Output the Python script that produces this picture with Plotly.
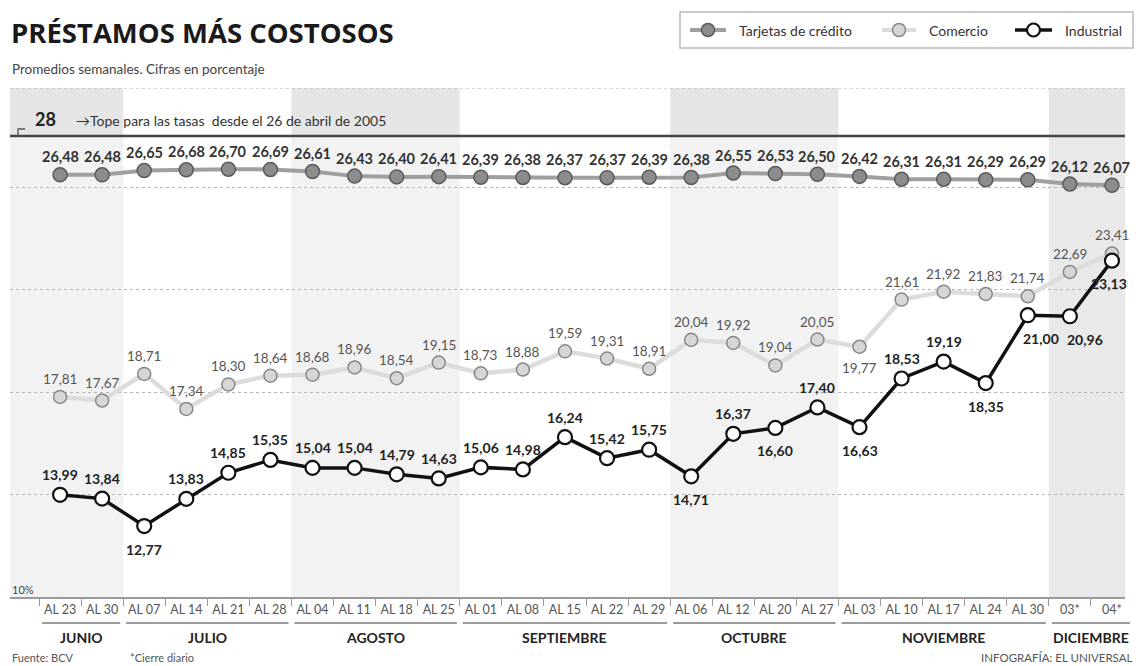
import plotly.graph_objects as go

# ---------------- data ----------------
weeks = ["AL 23", "AL 30", "AL 07", "AL 14", "AL 21", "AL 28", "AL 04", "AL 11", "AL 18",
         "AL 25", "AL 01", "AL 08", "AL 15", "AL 22", "AL 29", "AL 06", "AL 12", "AL 20",
         "AL 27", "AL 03", "AL 10", "AL 17", "AL 24", "AL 30", "03*", "04*"]
months = ["JUNIO", "JULIO", "AGOSTO", "SEPTIEMBRE", "OCTUBRE", "NOVIEMBRE", "DICIEMBRE"]
month_counts = [2, 4, 4, 5, 4, 5, 2]

tarjetas = [26.48, 26.48, 26.65, 26.68, 26.70, 26.69, 26.61, 26.43, 26.40, 26.41, 26.39,
            26.38, 26.37, 26.37, 26.39, 26.38, 26.55, 26.53, 26.50, 26.42, 26.31, 26.31,
            26.29, 26.29, 26.12, 26.07]
comercio = [17.81, 17.67, 18.71, 17.34, 18.30, 18.64, 18.68, 18.96, 18.54, 19.15, 18.73,
            18.88, 19.59, 19.31, 18.91, 20.04, 19.92, 19.04, 20.05, 19.77, 21.61, 21.92,
            21.83, 21.74, 22.69, 23.41]
industrial = [13.99, 13.84, 12.77, 13.83, 14.85, 15.35, 15.04, 15.04, 14.79, 14.63, 15.06,
              14.98, 16.24, 15.42, 15.75, 14.71, 16.37, 16.60, 17.40, 16.63, 18.53, 19.19,
              18.35, 21.00, 20.96, 23.13]
tope = 28

# label placement (style): 1 = above, -1 = below
com_side = [1] * 26
com_side[19] = -1
ind_side = [1] * 26
for k in (2, 15, 17, 19, 22, 23, 24, 25):
    ind_side[k] = -1
ind_dx = [0] * 26
ind_dx[23] = 13
ind_dx[24] = 15
ind_dx[25] = -3

FONT = "Lato, 'Open Sans', sans-serif"
XMIN, XMAX = -1.19, 25.31
YMIN, YMAX = 10, 29.87
W, H = 1136, 666
ML, MR, MT, MB = 10, 11, 88, 69
PW, PH = W - ML - MR, H - MT - MB


def pxx(px):
    return (px - ML) / PW


def pxy(py):
    return (H - MB - py) / PH


def xp(i):
    return (i - XMIN) / (XMAX - XMIN)


x = list(range(len(weeks)))
fig = go.Figure()

fig.add_trace(go.Scatter(
    x=x, y=tarjetas, mode="lines+markers", name="Tarjetas de crédito",
    line=dict(color="#9f9f9f", width=4),
    marker=dict(size=14, color="#8c8c8c", line=dict(color="#5a5a5a", width=1.5)),
    hoverinfo="skip"))
fig.add_trace(go.Scatter(
    x=x, y=comercio, mode="lines+markers", name="Comercio",
    line=dict(color="#dcdcdc", width=4.5),
    marker=dict(size=13, color="#d6d6d6", line=dict(color="#888888", width=1.5)),
    hoverinfo="skip"))
fig.add_trace(go.Scatter(
    x=x, y=industrial, mode="lines+markers", name="Industrial",
    line=dict(color="#111111", width=3.5),
    marker=dict(size=14, color="white", line=dict(color="#111111", width=2.2)),
    hoverinfo="skip"))

shapes = []
annotations = []


def note(**kw):
    kw.setdefault("showarrow", False)
    kw.setdefault("xanchor", "center")
    kw.setdefault("yanchor", "middle")
    annotations.append(kw)


# month bands
start = 0
for m, (name, cnt) in enumerate(zip(months, month_counts)):
    end = start + cnt - 1
    x0 = XMIN if m == 0 else start - 0.5
    x1 = XMAX if m == len(months) - 1 else end + 0.5
    if m % 2 == 0:
        low = "#e9e9e9" if m == len(months) - 1 else "#f2f2f2"
        shapes.append(dict(type="rect", xref="x", yref="y", x0=x0, x1=x1, y0=YMIN, y1=tope,
                           fillcolor=low, line=dict(width=0), layer="below"))
        shapes.append(dict(type="rect", xref="x", yref="y", x0=x0, x1=x1, y0=tope, y1=YMAX,
                           fillcolor="#e5e5e5", line=dict(width=0), layer="below"))
    # month underline and label
    u0 = xp(start - 0.5) + 3 / PW
    u1 = xp(end + 0.5) - 3 / PW
    shapes.append(dict(type="line", xref="paper", yref="paper", x0=u0, x1=u1,
                       y0=pxy(623), y1=pxy(623), line=dict(color="#9a9a9a", width=2)))
    note(xref="paper", yref="paper", x=(u0 + u1) / 2, y=pxy(637),
         text=f"<b>{name}</b>", font=dict(family=FONT, size=14, color="#222"))
    start = end + 1

# top dotted line and 28 line
shapes.append(dict(type="line", xref="paper", yref="y", x0=0, x1=1, y0=YMAX, y1=YMAX,
                   line=dict(color="#b0b0b0", width=1, dash="dot")))
shapes.append(dict(type="line", xref="paper", yref="y", x0=0, x1=1, y0=tope, y1=tope,
                   line=dict(color="#444444", width=2.5)))
# small bracket near 28
shapes.append(dict(type="path", xref="paper", yref="paper",
                   path=f"M {pxx(18)} {pxy(137)} L {pxx(18)} {pxy(129)} L {pxx(25)} {pxy(129)}",
                   line=dict(color="#555", width=1.3)))
note(xref="paper", yref="y", x=pxx(33), y=tope, yshift=17, xanchor="left",
     text="<b>28</b>", font=dict(family=FONT, size=18, color="#222"))
note(xref="paper", yref="y", x=pxx(74), y=tope, yshift=15, xanchor="left",
     text="→Tope para las tasas  desde el 26 de abril de 2005",
     font=dict(family=FONT, size=14, color="#333"))


# data labels
def fmt(v):
    return f"{v:.2f}".replace(".", ",")


for i, v in enumerate(tarjetas):
    note(x=i, y=v, text=f"<b>{fmt(v)}</b>", yshift=18,
         font=dict(family=FONT, size=14.5, color="#333"))
for i, v in enumerate(comercio):
    note(x=i, y=v, text=fmt(v), yshift=18 if com_side[i] > 0 else -21,
         font=dict(family=FONT, size=13.5, color="#555"))
for i, v in enumerate(industrial):
    note(x=i, y=v, text=f"<b>{fmt(v)}</b>", yshift=20 if ind_side[i] > 0 else -23,
         xshift=ind_dx[i], font=dict(family=FONT, size=14, color="#222"))

# title, subtitle
note(xref="paper", yref="paper", x=pxx(9), y=pxy(33), xanchor="left",
     text="<b>PRÉSTAMOS MÁS COSTOSOS</b>",
     font=dict(family="'Open Sans', sans-serif", size=27.5, color="#1a1a1a"))
note(xref="paper", yref="paper", x=pxx(10), y=pxy(69), xanchor="left",
     text="Promedios semanales. Cifras en porcentaje",
     font=dict(family=FONT, size=13.5, color="#444"))
# 10%
note(xref="paper", yref="y", x=pxx(10), y=YMIN, yshift=8, xanchor="left",
     text="10%", font=dict(family=FONT, size=11, color="#444"))
# footer
note(xref="paper", yref="paper", x=pxx(10), y=pxy(657), xanchor="left",
     text="Fuente: BCV", font=dict(family=FONT, size=11, color="#555"))
note(xref="paper", yref="paper", x=pxx(128), y=pxy(657), xanchor="left",
     text="*Cierre diario", font=dict(family=FONT, size=11, color="#555"))
note(xref="paper", yref="paper", x=pxx(1134), y=pxy(657), xanchor="right",
     text="INFOGRAFÍA: EL UNIVERSAL", font=dict(family=FONT, size=11.5, color="#555"))

# custom legend
shapes.append(dict(type="rect", xref="paper", yref="paper", x0=pxx(680), x1=pxx(1133),
                   y0=pxy(12), y1=pxy(48), line=dict(color="#bbbbbb", width=1.5),
                   fillcolor="white"))
leg = [
    ("Tarjetas de crédito", 690, 726, "#9f9f9f", 4, "#8c8c8c", "#5a5a5a", 1.5, 737),
    ("Comercio", 882, 916, "#dcdcdc", 4, "#d6d6d6", "#888888", 1.5, 927),
    ("Industrial", 1015, 1052, "#111111", 3.5, "white", "#111111", 2.2, 1063),
]
ly = 30
for name, a, b, lc, lw, fc, oc, ow, tx in leg:
    shapes.append(dict(type="line", xref="paper", yref="paper", x0=pxx(a), x1=pxx(b),
                       y0=pxy(ly), y1=pxy(ly), line=dict(color=lc, width=lw)))
    c = (a + b) / 2
    shapes.append(dict(type="circle", xref="paper", yref="paper",
                       x0=pxx(c - 6.5), x1=pxx(c + 6.5), y0=pxy(ly + 6.5), y1=pxy(ly - 6.5),
                       fillcolor=fc, line=dict(color=oc, width=ow)))
    note(xref="paper", yref="paper", x=pxx(tx), y=pxy(ly), xanchor="left",
         text=name, font=dict(family=FONT, size=14, color="#333"))

fig.update_layout(
    width=W, height=H, margin=dict(l=ML, r=MR, t=MT, b=MB),
    paper_bgcolor="white", plot_bgcolor="white", showlegend=False,
    shapes=shapes, annotations=annotations,
    xaxis=dict(range=[XMIN, XMAX], tickmode="array", tickvals=x, ticktext=weeks,
               ticks="", showgrid=False, zeroline=False, showline=True,
               linecolor="#9a9a9a", linewidth=2,
               tickfont=dict(family=FONT, size=12.5, color="#555"),
               minor=dict(tickmode="array", tickvals=[i - 0.5 for i in range(len(weeks) + 1)],
                          ticks="outside", ticklen=7, tickwidth=1, tickcolor="#999",
                          showgrid=False)),
    yaxis=dict(range=[YMIN, YMAX], tickmode="array", tickvals=[14, 18, 22, 26],
               showticklabels=False, ticks="", showgrid=True, gridcolor="#b5b5b5",
               griddash="dot", gridwidth=1, zeroline=False, showline=False),
)

fig.write_html("out.html")
